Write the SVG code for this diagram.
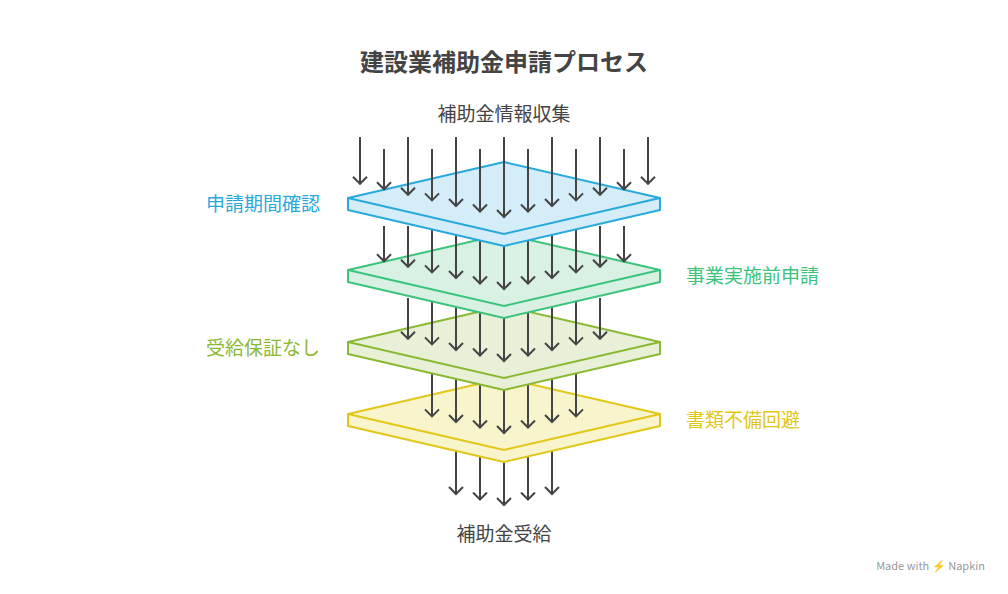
<svg xmlns="http://www.w3.org/2000/svg" width="1008" height="594" viewBox="0 0 1008 594">
<style>
text{font-family:"Noto Sans CJK JP","Noto Sans",sans-serif}
.a path{stroke:#444;stroke-width:2;fill:none;marker-end:url(#h)}
.t{font-size:19px;fill:#444;text-anchor:middle}
.lb{font-size:19px}
</style>
<defs>
<marker id="h" markerUnits="userSpaceOnUse" markerWidth="18" markerHeight="18" viewBox="-9 -9 18 18" refX="0" refY="0" orient="auto">
<path d="M-7,-7 L0,0 L-7,7" stroke="#444" stroke-width="2" fill="none"/>
</marker>
</defs>
<rect width="1008" height="594" fill="#fff"/>
<text x="504" y="71" text-anchor="middle" font-size="24" font-weight="bold" fill="#444">建設業補助金申請プロセス</text>
<text class="t" x="504" y="121">補助金情報収集</text>
<text class="t" x="504" y="541">補助金受給</text>

<g id="connectors">
<g class="a"><path d="M456 440V494"/><path d="M480 440V499.5"/><path d="M504 440V505"/><path d="M528 440V499.5"/><path d="M552 440V494"/></g>
</g>
<g id="layer4">
<polygon points="348,414 504,378 660,414 660,426 504,462 348,426" fill="#f8f4cc" stroke="#e2c719" stroke-width="2" stroke-linejoin="round"/>
<polyline points="348,414 504,450 660,414" fill="none" stroke="#e2c719" stroke-width="2"/>
<text class="lb" x="686" y="427" fill="#e2c719">書類不備回避</text>
</g>
<g class="a"><path d="M432 370V416.4"/><path d="M456 370V422"/><path d="M480 370V427.5"/><path d="M504 370V433"/><path d="M528 370V427.5"/><path d="M552 370V422"/><path d="M576 370V416.4"/></g>
<g id="layer3">
<polygon points="348,342 504,306 660,342 660,354 504,390 348,354" fill="#e8f1d8" stroke="#8ab934" stroke-width="2" stroke-linejoin="round"/>
<polyline points="348,342 504,378 660,342" fill="none" stroke="#8ab934" stroke-width="2"/>
<text class="lb" x="320" y="355" fill="#8ab934" text-anchor="end">受給保証なし</text>
</g>
<g class="a"><path d="M408 298V338.8"/><path d="M432 298V344.4"/><path d="M456 298V350"/><path d="M480 298V355.5"/><path d="M504 298V361"/><path d="M528 298V355.5"/><path d="M552 298V350"/><path d="M576 298V344.4"/><path d="M600 298V338.8"/></g>
<g id="layer2">
<polygon points="348,270 504,234 660,270 660,282 504,318 348,282" fill="#d8f1e3" stroke="#3cc47c" stroke-width="2" stroke-linejoin="round"/>
<polyline points="348,270 504,306 660,270" fill="none" stroke="#3cc47c" stroke-width="2"/>
<text class="lb" x="686" y="283" fill="#3cc47c">事業実施前申請</text>
</g>
<g class="a"><path d="M384 226V261.3"/><path d="M408 226V266.8"/><path d="M432 226V272.4"/><path d="M456 226V278"/><path d="M480 226V283.5"/><path d="M504 226V289"/><path d="M528 226V283.5"/><path d="M552 226V278"/><path d="M576 226V272.4"/><path d="M600 226V266.8"/><path d="M624 226V261.3"/></g>
<g id="layer1">
<polygon points="348,198 504,162 660,198 660,210 504,246 348,210" fill="#d4edf8" stroke="#29a9dc" stroke-width="2" stroke-linejoin="round"/>
<polyline points="348,198 504,234 660,198" fill="none" stroke="#29a9dc" stroke-width="2"/>
<text class="lb" x="320" y="211" fill="#29a9dc" text-anchor="end">申請期間確認</text>
</g>
<g class="a"><path d="M360 137V183.8"/><path d="M384 149V189.3"/><path d="M408 137V194.8"/><path d="M432 149V200.4"/><path d="M456 137V206"/><path d="M480 149V211.5"/><path d="M504 137V217"/><path d="M528 149V211.5"/><path d="M552 137V206"/><path d="M576 149V200.4"/><path d="M600 137V194.8"/><path d="M624 149V189.3"/><path d="M648 137V183.8"/></g>
<text x="985" y="570" text-anchor="end" font-size="11" fill="#999">Made with ⚡ Napkin</text>
</svg>
